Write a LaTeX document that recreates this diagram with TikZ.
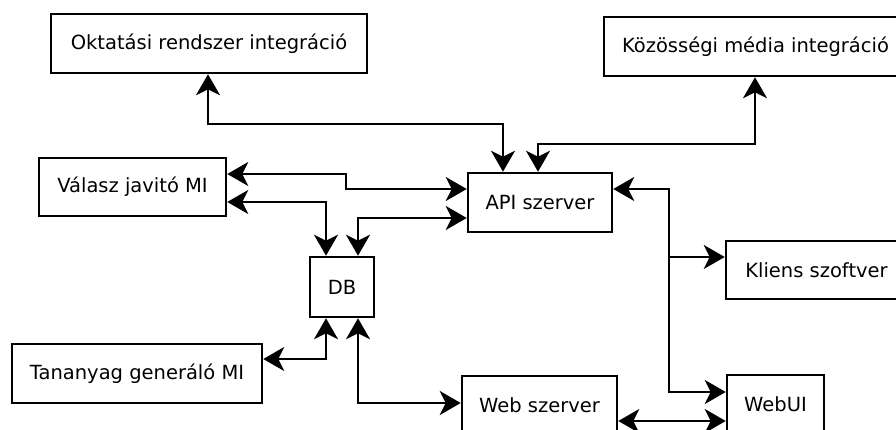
\documentclass[tikz,border=0pt]{standalone}
\usepackage{fontspec}
\setmainfont{DejaVu Sans}
\usetikzlibrary{arrows.meta}
\tikzset{
  box/.style={draw=black, line width=2.5pt, fill=white, inner sep=0pt, font=\fontsize{19.5}{23}\selectfont},
  conn/.style={line width=2.5pt, {Stealth[length=21pt,width=24pt,inset=6pt]}-{Stealth[length=21pt,width=24pt,inset=6pt]}},
  conn1/.style={line width=2.5pt, -{Stealth[length=21pt,width=24pt,inset=6pt]}}
}
\begin{document}
\begin{tikzpicture}[x=1pt,y=-1pt]
\useasboundingbox (0,0) rectangle (896,430);
\node[box, minimum width=316pt, minimum height=59pt] (okt) at (209,43.5) {Oktatási rendszer integráció};
\node[box, minimum width=303pt, minimum height=59pt] (koz) at (755.5,46.5) {Közösségi média integráció};
\node[box, minimum width=187pt, minimum height=58pt] (val) at (132.5,187) {Válasz javitó MI};
\node[box, minimum width=144pt, minimum height=59pt] (api) at (540,202.5) {API szerver};
\node[box, minimum width=64pt, minimum height=60pt] (db) at (342,287) {DB};
\node[box, minimum width=250pt, minimum height=59pt] (tan) at (137,373.5) {Tananyag generáló MI};
\node[box, minimum width=181pt, minimum height=58pt] (kli) at (816.5,270) {Kliens szoftver};
\node[box, minimum width=155pt, minimum height=58pt] (web) at (539.5,405) {Web szerver};
\node[box, minimum width=97pt, minimum height=58pt] (wui) at (775.5,404) {WebUI};
\coordinate (branch) at (669,257);

\draw[conn] (okt.south -| 208,0) |- (503,124) -- (api.north -| 503,0);
\draw[conn] (koz.south -| 755,0) |- (538,144) -- (api.north -| 538,0);
\draw[conn] (val.east |- 0,174) -- (346,174) |- (api.west |- 0,189);
\draw[conn] (val.east |- 0,202) -| (db.north -| 326,0);
\draw[conn] (api.west |- 0,218) -| (db.north -| 358,0);
\draw[conn] (api.east |- 0,189) -- (669,189) |- (wui.west |- 0,392);
\draw[conn1] (branch) -- (kli.west |- branch);
\draw[conn] (tan.east |- 0,359) -| (db.south -| 326,0);
\draw[conn] (db.south -| 358,0) |- (web.west |- 0,403);
\draw[conn] (web.east |- 0,421) -- (wui.west |- 0,421);
\end{tikzpicture}
\end{document}
